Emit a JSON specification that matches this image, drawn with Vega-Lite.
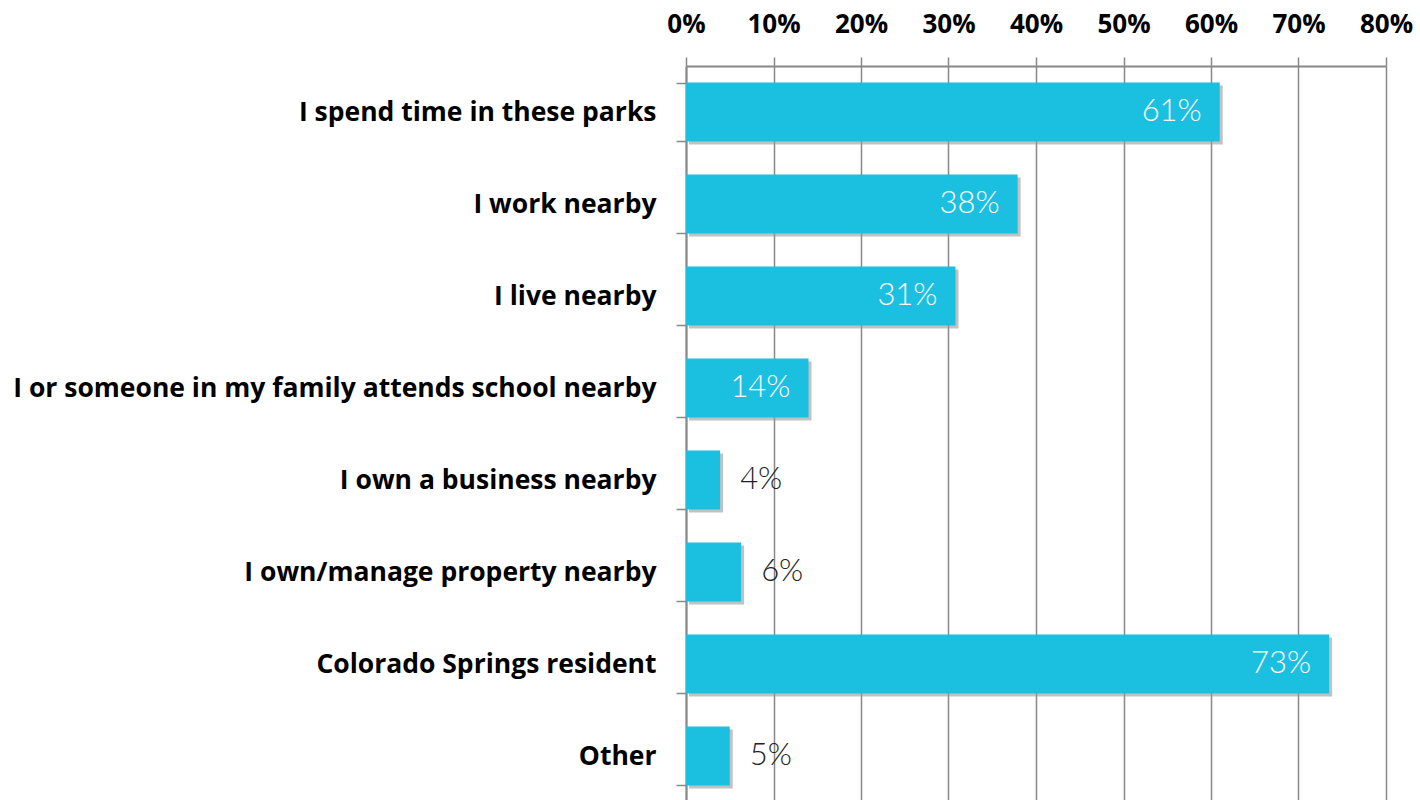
{
  "$schema": "https://vega.github.io/schema/vega-lite/v6.json",
  "autosize": "none",
  "width": 700,
  "height": 736,
  "padding": {"left": 686, "top": 66, "right": 34, "bottom": 0},
  "background": "white",
  "config": {
    "view": {"stroke": null},
    "axis": {"labelFont": "Open Sans", "labelFontWeight": "bold", "labelColor": "black"}
  },
  "data": {
    "values": [
      {"reason": "I spend time in these parks", "share": 0.61, "label": "61%"},
      {"reason": "I work nearby", "share": 0.379, "label": "38%"},
      {"reason": "I live nearby", "share": 0.308, "label": "31%"},
      {"reason": "I or someone in my family attends school nearby", "share": 0.14, "label": "14%"},
      {"reason": "I own a business nearby", "share": 0.039, "label": "4%"},
      {"reason": "I own/manage property nearby", "share": 0.063, "label": "6%"},
      {"reason": "Colorado Springs resident", "share": 0.735, "label": "73%"},
      {"reason": "Other", "share": 0.05, "label": "5%"}
    ]
  },
  "encoding": {
    "y": {
      "field": "reason",
      "type": "nominal",
      "sort": null,
      "title": null,
      "scale": {"paddingInner": 0.36, "paddingOuter": 0.18},
      "axis": {
        "orient": "left",
        "tickBand": "extent",
        "tickSize": 10,
        "tickColor": "#888888",
        "tickWidth": 1.5,
        "domainColor": "#888888",
        "domainWidth": 2,
        "labelPadding": 20,
        "labelFontSize": 26.5,
        "labelLimit": 700,
        "grid": false
      }
    },
    "x": {
      "field": "share",
      "type": "quantitative",
      "title": null,
      "scale": {"domain": [0, 0.8], "nice": false},
      "axis": {
        "orient": "top",
        "format": ".0%",
        "values": [0, 0.1, 0.2, 0.3, 0.4, 0.5, 0.6, 0.7, 0.8],
        "labelFlush": false,
        "labelOverlap": false,
        "tickSize": 9,
        "tickColor": "#888888",
        "tickWidth": 1.5,
        "domainColor": "#888888",
        "domainWidth": 2,
        "grid": true,
        "gridColor": "#888888",
        "gridWidth": 1.5,
        "gridOpacity": 1,
        "labelPadding": 20,
        "labelFontSize": 26
      }
    }
  },
  "layer": [
    {
      "mark": {"type": "bar", "color": "#999999", "opacity": 0.6, "xOffset": 3, "yOffset": 3},
      "encoding": {}
    },
    {
      "mark": {"type": "bar", "color": "#1BBFDF"},
      "encoding": {}
    },
    {
      "transform": [{"filter": "datum.share >= 0.1"}],
      "mark": {"type": "text", "align": "right", "baseline": "middle", "dx": -18, "font": "Lato", "fontWeight": 300, "fontSize": 31, "color": "white"},
      "encoding": {"text": {"field": "label"}}
    },
    {
      "transform": [{"filter": "datum.share < 0.1"}],
      "mark": {"type": "text", "align": "left", "baseline": "middle", "dx": 20, "font": "Lato", "fontWeight": 300, "fontSize": 31, "color": "#222222"},
      "encoding": {"text": {"field": "label"}}
    }
  ]
}
